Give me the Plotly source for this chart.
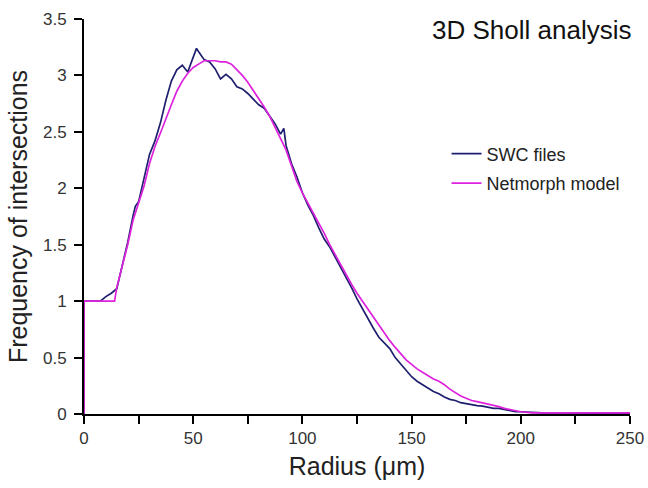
import plotly.graph_objects as go

# ---- data ----
swc_radius = [0, 0, 2.5, 5, 7.5, 10, 12.5, 15, 17.5, 20, 22.5, 23.5, 25, 27.5, 30, 32.5, 35, 37.5,
              40, 42.5, 45, 47.5, 50, 51.5, 52.5, 55, 57.5, 60, 62.5, 65, 67.5, 70, 72.5, 75, 77.5,
              80, 82.5, 85, 87.5, 90, 91.5, 92.5, 95, 97.5, 100, 102.5, 105, 107.5, 110, 112.5,
              115, 117.5, 120, 122.5, 125, 127.5, 130, 132.5, 135, 137.5, 140, 142.5, 145, 147.5,
              150, 152.5, 155, 157.5, 160, 162.5, 165, 167.5, 170, 172.5, 175, 177.5, 180, 182.5,
              185, 187.5, 190, 192.5, 195, 197.5, 200, 210, 220, 230, 240, 250]
swc_freq = [0, 1.0, 1.0, 1.0, 1.0, 1.04, 1.07, 1.11, 1.32, 1.52, 1.76, 1.84, 1.88, 2.08, 2.30, 2.42,
            2.58, 2.78, 2.95, 3.05, 3.09, 3.03, 3.17, 3.24, 3.21, 3.14, 3.12, 3.06, 2.97, 3.01, 2.97,
            2.90, 2.88, 2.84, 2.79, 2.74, 2.71, 2.64, 2.57, 2.48, 2.53, 2.38, 2.22, 2.10, 1.96, 1.85,
            1.76, 1.65, 1.55, 1.48, 1.39, 1.30, 1.22, 1.12, 1.02, 0.93, 0.84, 0.76, 0.68, 0.63,
            0.58, 0.50, 0.44, 0.38, 0.33, 0.29, 0.26, 0.23, 0.20, 0.18, 0.15, 0.13, 0.12, 0.10,
            0.09, 0.08, 0.075, 0.07, 0.06, 0.05, 0.05, 0.04, 0.03, 0.02, 0.02, 0.01, 0.01, 0.008,
            0.006, 0.005]

nm_radius = [0, 0, 5, 10, 14, 15, 17.5, 20, 22.5, 25, 27.5, 30, 32.5, 35, 37.5, 40, 42.5, 45, 47.5,
             50, 52.5, 55, 57.5, 60, 62.5, 65, 67.5, 70, 72.5, 75, 77.5, 80, 82.5, 85, 87.5, 90,
             92.5, 95, 97.5, 100, 102.5, 105, 107.5, 110, 112.5, 115, 117.5, 120, 122.5, 125,
             127.5, 130, 132.5, 135, 137.5, 140, 142.5, 145, 147.5, 150, 152.5, 155, 157.5, 160,
             162.5, 165, 167.5, 170, 172.5, 175, 177.5, 180, 182.5, 185, 187.5, 190, 192.5, 195,
             197.5, 200, 205, 210, 220, 230, 240, 250]
nm_freq = [0, 1.0, 1.0, 1.0, 1.0, 1.12, 1.30, 1.50, 1.72, 1.86, 2.02, 2.22, 2.37, 2.49, 2.62, 2.74,
           2.86, 2.95, 3.02, 3.07, 3.10, 3.13, 3.13, 3.13, 3.12, 3.12, 3.10, 3.05, 3.00, 2.94, 2.87,
           2.80, 2.72, 2.64, 2.54, 2.44, 2.34, 2.20, 2.06, 1.96, 1.87, 1.79, 1.70, 1.60, 1.50, 1.41,
           1.32, 1.23, 1.15, 1.07, 1.00, 0.92, 0.85, 0.78, 0.71, 0.65, 0.59, 0.53, 0.48, 0.44, 0.40,
           0.37, 0.34, 0.31, 0.29, 0.26, 0.22, 0.19, 0.16, 0.14, 0.12, 0.11, 0.10, 0.09, 0.08,
           0.065, 0.05, 0.04, 0.03, 0.02, 0.01, 0.01, 0.01, 0.008, 0.006, 0.01]

x_tick_vals = [0, 25, 50, 75, 100, 125, 150, 175, 200, 225, 250]
x_tick_text = ["0", "", "50", "", "100", "", "150", "", "200", "", "250"]
y_tick_vals = [0, 0.5, 1, 1.5, 2, 2.5, 3, 3.5]
y_tick_text = ["0", "0.5", "1", "1.5", "2", "2.5", "3", "3.5"]

FONT = "Liberation Sans, Arial, sans-serif"

fig = go.Figure()
fig.add_trace(go.Scatter(x=swc_radius, y=swc_freq, mode="lines", name="SWC files",
                         line=dict(color="#1f1f70", width=1.7), legendgroup="a"))
fig.add_trace(go.Scatter(x=nm_radius, y=nm_freq, mode="lines", name="Netmorph model",
                         line=dict(color="#dd22dd", width=1.7), legendgroup="b"))

fig.update_layout(
    width=648, height=488,
    margin=dict(l=84, r=18, t=19, b=74),
    paper_bgcolor="white", plot_bgcolor="white",
    font=dict(family=FONT, color="#222"),
    showlegend=True,
    legend=dict(x=0.664, y=0.705, xanchor="left", yanchor="top",
                font=dict(size=18, family=FONT, color="#222"),
                bgcolor="rgba(0,0,0,0)", tracegroupgap=3, itemwidth=30),
    xaxis=dict(range=[0, 250], tickmode="array", tickvals=x_tick_vals, ticktext=x_tick_text,
               showgrid=False, zeroline=False, showline=True, linecolor="black", linewidth=2,
               ticks="outside", ticklen=8, tickwidth=2, tickcolor="black", automargin=False,
               tickfont=dict(size=17, color="#333"),
               title=dict(text="Radius (μm)", font=dict(size=25, color="#222"), standoff=10)),
    yaxis=dict(range=[0, 3.5], tickmode="array", tickvals=y_tick_vals, ticktext=y_tick_text,
               showgrid=False, zeroline=False, showline=True, linecolor="black", linewidth=2,
               ticks="outside", ticklen=8, tickwidth=2, tickcolor="black", automargin=False,
               ticklabelstandoff=4,
               tickfont=dict(size=17, color="#333"),
               title=dict(text="Frequency of intersections", font=dict(size=25, color="#222"),
                          standoff=8)),
    annotations=[dict(text="3D Sholl analysis", xref="paper", yref="paper", x=1.006, y=0.972,
                      xanchor="right", yanchor="middle", showarrow=False,
                      font=dict(size=26, family=FONT, color="#111"))],
)

fig.write_html("out.html", config={"displayModeBar": False},
               post_script="document.body.style.margin='0px';")
